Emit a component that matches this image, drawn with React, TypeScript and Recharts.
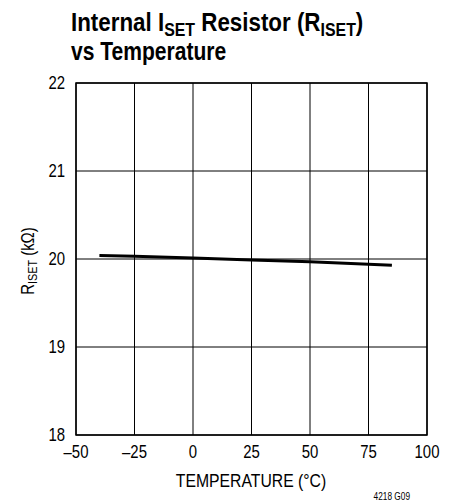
import React from "react";
import { LineChart, Line, XAxis, YAxis, CartesianGrid, ReferenceArea } from "recharts";

const temperatures = [-40, -25, 0, 25, 50, 85];
const resistance = [20.04, 20.03, 20.01, 19.99, 19.97, 19.93];
const xTicks = [-50, -25, 0, 25, 50, 75, 100];
const yTicks = [18, 19, 20, 21, 22];

const data = temperatures.map((t, i) => ({ t, r: resistance[i] }));

const FONT = "'Liberation Sans', Arial, sans-serif";
const SX = 0.83;

const fmtX = (v: number) => (v < 0 ? "\u2013" + Math.abs(v) : String(v));

const XTick = (props: any) => {
  const { x, y, payload } = props;
  return (
    <g transform={`translate(${x},${y})`}>
      <text transform={`scale(${SX},1)`} y={0} dy="0.71em" textAnchor="middle" fontFamily={FONT} fontSize={18} fill="#000">
        {fmtX(payload.value)}
      </text>
    </g>
  );
};

const YTick = (props: any) => {
  const { x, y, payload } = props;
  return (
    <g transform={`translate(${x},${y})`}>
      <text transform={`scale(${SX},1)`} dy="0.355em" textAnchor="end" fontFamily={FONT} fontSize={18} fill="#000">
        {String(payload.value)}
      </text>
    </g>
  );
};

export default function App() {
  return (
    <div style={{ position: "absolute", left: 0, top: 0, width: 457, height: 502, background: "#fff" }}>
      <LineChart
        width={457}
        height={502}
        data={data}
        margin={{ top: 83, right: 30, bottom: 0, left: 0 }}
      >
        <CartesianGrid stroke="#000" strokeWidth={1} horizontalValues={yTicks} verticalValues={xTicks} />
        <XAxis
          dataKey="t"
          type="number"
          domain={[-50, 100]}
          ticks={xTicks}
          height={67}
          tickSize={0}
          tickMargin={10}
          axisLine={false}
          tick={<XTick />}
          interval={0}
        />
        <YAxis
          type="number"
          domain={[18, 22]}
          ticks={yTicks}
          width={76}
          tickSize={0}
          tickMargin={11}
          axisLine={false}
          tick={<YTick />}
          interval={0}
        />
        <ReferenceArea x1={-50} x2={100} y1={18} y2={22} fill="none" stroke="#000" strokeWidth={1.5} ifOverflow="visible" />
        <Line
          dataKey="r"
          type="linear"
          stroke="#000"
          strokeWidth={3}
          dot={false}
          isAnimationActive={false}
        />
      </LineChart>
      <svg
        width={457}
        height={502}
        style={{ position: "absolute", left: 0, top: 0, pointerEvents: "none" }}
      >
        <g transform={`translate(71,0) scale(0.86,1)`}>
          <text x={0} y={31} fontFamily={FONT} fontWeight="bold" fontSize={26} fill="#000">
            Internal I<tspan fontSize={18.5} dy={5.5}>SET</tspan>
            <tspan dy={-5.5}> Resistor (R</tspan>
            <tspan fontSize={18.5} dy={5.5}>ISET</tspan>
            <tspan dy={-5.5}>)</tspan>
          </text>
        </g>
        <g transform={`translate(71,0) scale(0.81,1)`}>
          <text x={0} y={60} fontFamily={FONT} fontWeight="bold" fontSize={26} fill="#000">
            vs Temperature
          </text>
        </g>
        <g transform={`translate(251,487) scale(${SX},1)`}>
          <text x={0} y={0} textAnchor="middle" fontFamily={FONT} fontSize={19} fill="#000">
            TEMPERATURE (°C)
          </text>
        </g>
        <g transform={`translate(34,261) rotate(-90) scale(${SX},1)`}>
          <text x={0} y={0} textAnchor="middle" fontFamily={FONT} fontSize={18} fill="#000">
            R<tspan fontSize={13} dy={3}>ISET</tspan>
            <tspan dy={-3}> (kΩ)</tspan>
          </text>
        </g>
        <g transform={`translate(410,500) scale(${SX},1)`}>
          <text x={0} y={0} textAnchor="end" fontFamily={FONT} fontSize={10} fill="#000">
            4218 G09
          </text>
        </g>
      </svg>
    </div>
  );
}
